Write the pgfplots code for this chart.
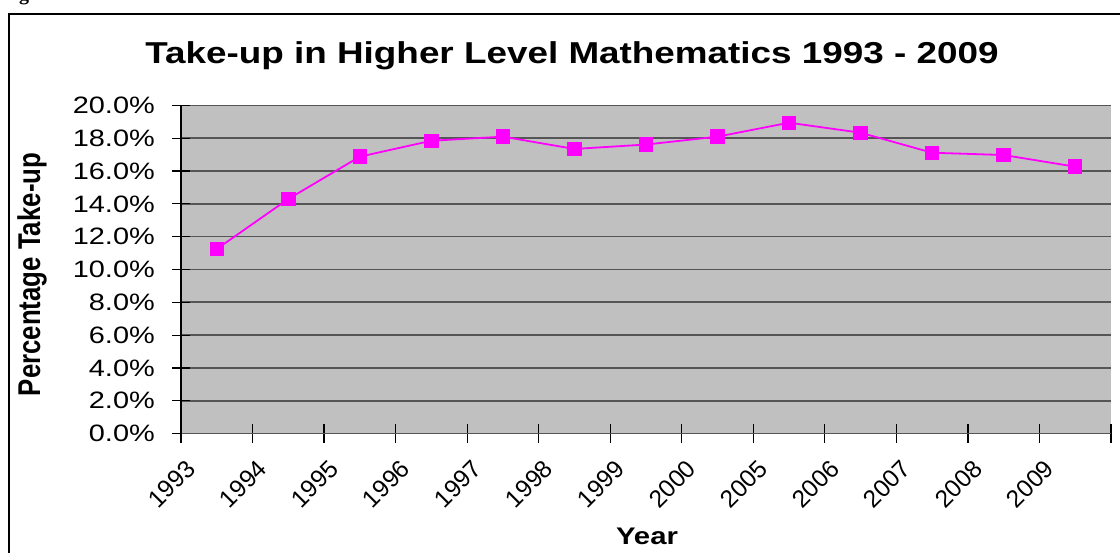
\documentclass[border=0pt]{standalone}
\usepackage{fontspec}
\setmainfont{Liberation Sans}
\newfontfamily\seriffont{Liberation Serif}
\usepackage{graphicx}
\newcommand\sx[1]{\scalebox{1.22}[1]{#1}}
\usepackage{pgfplots}
\pgfplotsset{compat=1.18}
\definecolor{plotbg}{RGB}{192,192,192}
\definecolor{gridc}{RGB}{85,85,85}
\definecolor{mag}{RGB}{255,0,255}
\begin{document}
\begin{tikzpicture}[x=1pt,y=1pt]
\path[use as bounding box] (0,0) rectangle (1120,-553);
% partial caption glyph above the frame
\node[anchor=base west, inner sep=0pt] at (19,-1) {\seriffont\bfseries\fontsize{20}{20}\selectfont g};
% frame
\draw[line width=2.2pt, black] (9.3,-560) -- (9.3,-14) -- (1125,-14);
\begin{axis}[
  at={(181pt,-433.5pt)}, anchor=south west,
  scale only axis, width=930pt, height=328pt,
  xmin=0, xmax=13, ymin=0, ymax=20,
  axis x line=bottom, axis y line=left,
  axis line style={-},
  x axis line style={draw=gridc, line width=1.6pt},
  y axis line style={draw=black, line width=1.5pt},
  axis background/.style={fill=plotbg},
  tick align=center,
  major tick length=18pt,
  tick style={black, line width=1.2pt},
  xtick={0,1,...,13},
  xticklabels={1993,1994,1995,1996,1997,1998,1999,2000,2005,2006,2007,2008,2009,{}},
  xticklabel style={font=\fontsize{24.5}{27}\selectfont, xshift=10pt, yshift=-22pt, rotate=45, anchor=east, inner sep=0pt},
  ytick={0,2,...,20},
  yticklabels={\sx{0.0\%},\sx{2.0\%},\sx{4.0\%},\sx{6.0\%},\sx{8.0\%},\sx{10.0\%},\sx{12.0\%},\sx{14.0\%},\sx{16.0\%},\sx{18.0\%},\sx{20.0\%}},
  yticklabel style={font=\fontsize{23.7}{28}\selectfont, anchor=east, inner sep=2pt, xshift=-15pt},
  ymajorgrids,
  major grid style={draw=gridc, line width=1.6pt},
  clip=false,
]
\addplot[color=mag, line width=1.8pt, mark=square*, mark size=6.3pt, mark options={solid, fill=mag, draw=mag}]
coordinates {
(0.5,11.25) (1.5,14.3) (2.5,16.88) (3.5,17.85) (4.5,18.1) (5.5,17.35) (6.5,17.62)
(7.5,18.1) (8.5,18.95) (9.5,18.34) (10.5,17.12) (11.5,16.98) (12.5,16.27)
};
\end{axis}
\node[anchor=base, inner sep=0pt] at (572,-63.3) {\sx{\bfseries\fontsize{30.2}{34}\selectfont Take-up in Higher Level Mathematics 1993 - 2009}};
\node[rotate=90, inner sep=0pt] at (32,-274.5) {\scalebox{1}[1.22]{\bfseries\fontsize{25.8}{30}\selectfont Percentage Take-up}};
\node[anchor=base, inner sep=0pt] at (647,-544) {\sx{\bfseries\fontsize{24}{28}\selectfont Year}};
\end{tikzpicture}
\end{document}
